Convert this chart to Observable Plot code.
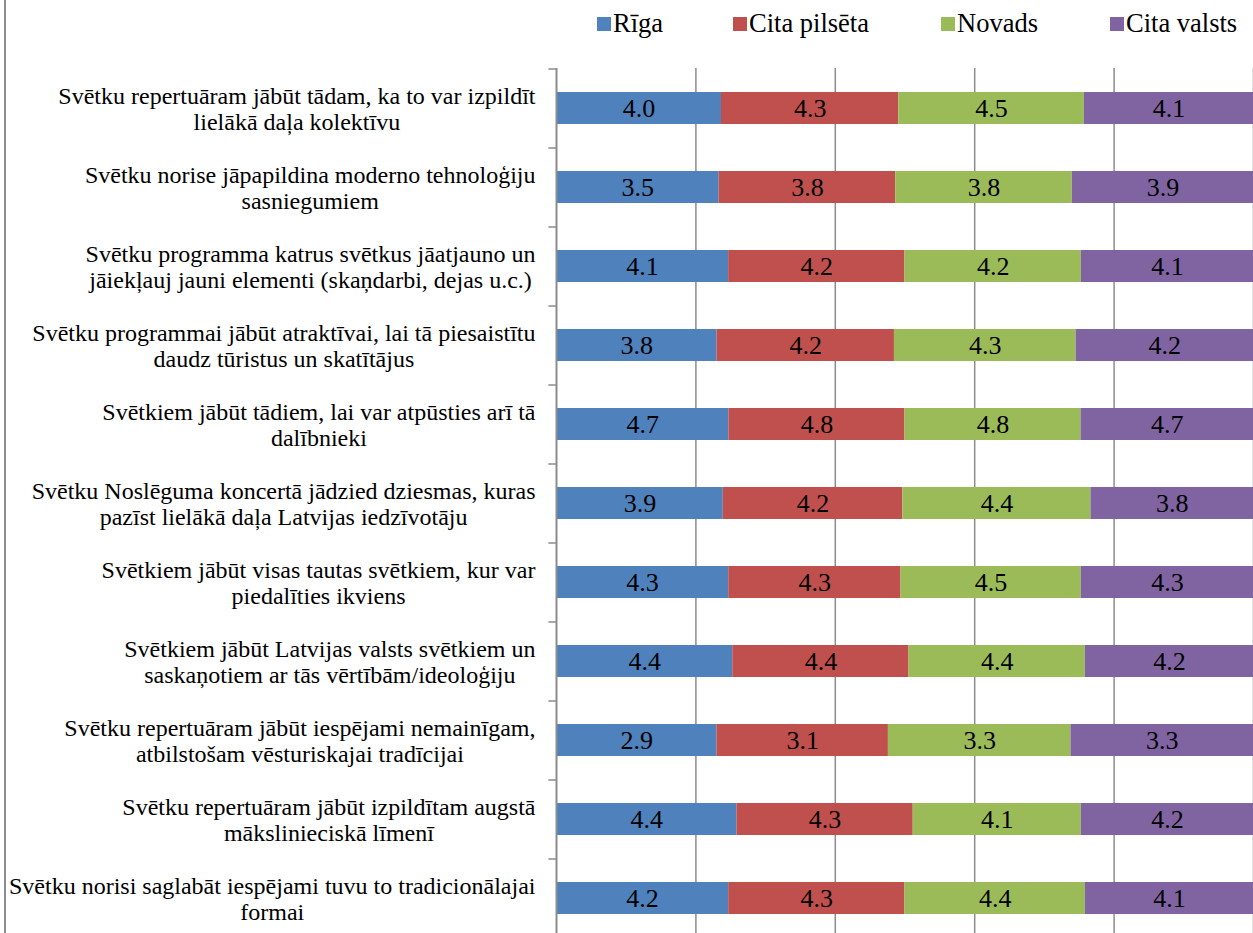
<!DOCTYPE html>
<html>
<head>
<meta charset="utf-8">
<script src="https://cdn.jsdelivr.net/npm/d3@7"></script>
<script src="https://cdn.jsdelivr.net/npm/@observablehq/plot@0.6"></script>
<style>
  html, body { margin: 0; padding: 0; background: #fff; overflow: hidden; font-family: 'Times New Roman', 'Liberation Serif', Tinos, serif; }
  #wrap { position: relative; width: 1253px; height: 933px; overflow: hidden; }
  #frame { position: absolute; left: 4px; top: 0; width: 2px; height: 933px; background: #8c8c8c; }
  #legend { position: relative; height: 50px; }
  .item { position: absolute; top: 8px; display: flex; align-items: center; font-size: 26.5px; color: #000; white-space: nowrap; }
  .sw { display: inline-block; width: 14px; height: 14px; margin-right: 2px; }
  svg text { font-family: 'Times New Roman', 'Liberation Serif', Tinos, serif; }
</style>
</head>
<body>
<div id="wrap">
  <div id="frame"></div>
  <div id="legend"></div>
  <div id="chart"></div>
</div>
<script>
const categories = [
  "Svētku repertuāram jābūt tādam, ka to var izpildīt\nlielākā daļa kolektīvu",
  "Svētku norise jāpapildina moderno tehnoloģiju\nsasniegumiem",
  "Svētku programma katrus svētkus jāatjauno un\njāiekļauj jauni elementi (skaņdarbi, dejas u.c.)",
  "Svētku programmai jābūt atraktīvai, lai tā piesaistītu\ndaudz tūristus un skatītājus",
  "Svētkiem jābūt tādiem, lai var atpūsties arī tā\ndalībnieki",
  "Svētku Noslēguma koncertā jādzied dziesmas, kuras\npazīst lielākā daļa Latvijas iedzīvotāju",
  "Svētkiem jābūt visas tautas svētkiem, kur var\npiedalīties ikviens",
  "Svētkiem jābūt Latvijas valsts svētkiem un\nsaskaņotiem ar tās vērtībām/ideoloģiju",
  "Svētku repertuāram jābūt iespējami nemainīgam,\natbilstošam vēsturiskajai tradīcijai",
  "Svētku repertuāram jābūt izpildītam augstā\nmākslinieciskā līmenī",
  "Svētku norisi saglabāt iespējami tuvu to tradicionālajai\nformai"
];
const series = ["Rīga", "Cita pilsēta", "Novads", "Cita valsts"];
const riga        = [4.0, 3.5, 4.1, 3.8, 4.7, 3.9, 4.3, 4.4, 2.9, 4.4, 4.2];
const citaPilseta = [4.3, 3.8, 4.2, 4.2, 4.8, 4.2, 4.3, 4.4, 3.1, 4.3, 4.3];
const novads      = [4.5, 3.8, 4.2, 4.3, 4.8, 4.4, 4.5, 4.4, 3.3, 4.1, 4.4];
const citaValsts  = [4.1, 3.9, 4.1, 4.2, 4.7, 3.8, 4.3, 4.2, 3.3, 4.2, 4.1];
const colors = ["#4F81BD", "#C0504D", "#9BBB59", "#8064A2"];
const gridTicks = [0.2, 0.4, 0.6, 0.8, 1.0];

const seriesValues = [riga, citaPilseta, novads, citaValsts];
const rows = categories.flatMap((c, i) =>
  series.map((s, j) => ({category: c, series: s, value: seriesValues[j][i]})));

// legend (HTML, above the SVG)
const legendLefts = [597, 733, 941, 1110];
const legend = document.getElementById("legend");
series.forEach((s, j) => {
  const it = document.createElement("div");
  it.className = "item";
  it.style.left = legendLefts[j] + "px";
  const sw = document.createElement("span");
  sw.className = "sw";
  sw.style.background = colors[j];
  const tx = document.createElement("span");
  tx.textContent = s;
  it.appendChild(sw); it.appendChild(tx);
  legend.appendChild(it);
});

const FONT = "'Times New Roman', 'Liberation Serif', Tinos, serif";
const H = 893, MT = 18, MB = 6;
const step = (H - MT - MB) / categories.length;
const labelFont = 24;
const ctx = document.createElement("canvas").getContext("2d");
ctx.font = `${labelFont}px 'Times New Roman', 'Liberation Serif', serif`;
const labelMarks = categories.map(c => {
  const w = d3.max(c.split("\n"), l => ctx.measureText(l).width);
  return Plot.text([c], {
    y: d => d, frameAnchor: "left", dx: -(21 + w / 2),
    text: d => d, textAnchor: "middle", lineAnchor: "middle",
    lineHeight: 1.1, fontSize: labelFont, fontFamily: FONT, fill: "#000"
  });
});

const chart = Plot.plot({
  width: 1253, height: H,
  marginLeft: 556, marginRight: 0, marginTop: MT, marginBottom: MB,
  x: {domain: [0, 1], axis: null},
  y: {domain: categories, axis: null, paddingInner: 0.6, paddingOuter: 0.3},
  color: {domain: series, range: colors},
  style: {fontFamily: FONT, background: "transparent"},
  marks: [
    Plot.ruleX(gridTicks, {stroke: "#8c8c8c", strokeWidth: 1.5}),
    Plot.barX(rows, Plot.stackX({x: "value", y: "category", fill: "series", offset: "normalize"})),
    Plot.text(rows, Plot.stackX({x: "value", y: "category", z: "series", offset: "normalize",
      text: d => d.value.toFixed(1), fontSize: 26, fontFamily: FONT, fill: "#000"})),
    Plot.ruleX([0], {stroke: "#8c8c8c", strokeWidth: 2}),
    Plot.ruleY(categories, {y: d => d, x1: -0.011, x2: 0, dy: -step / 2, stroke: "#8c8c8c", strokeWidth: 1.5}),
    ...labelMarks
  ]
});
document.getElementById("chart").appendChild(chart);
</script>
</body>
</html>
